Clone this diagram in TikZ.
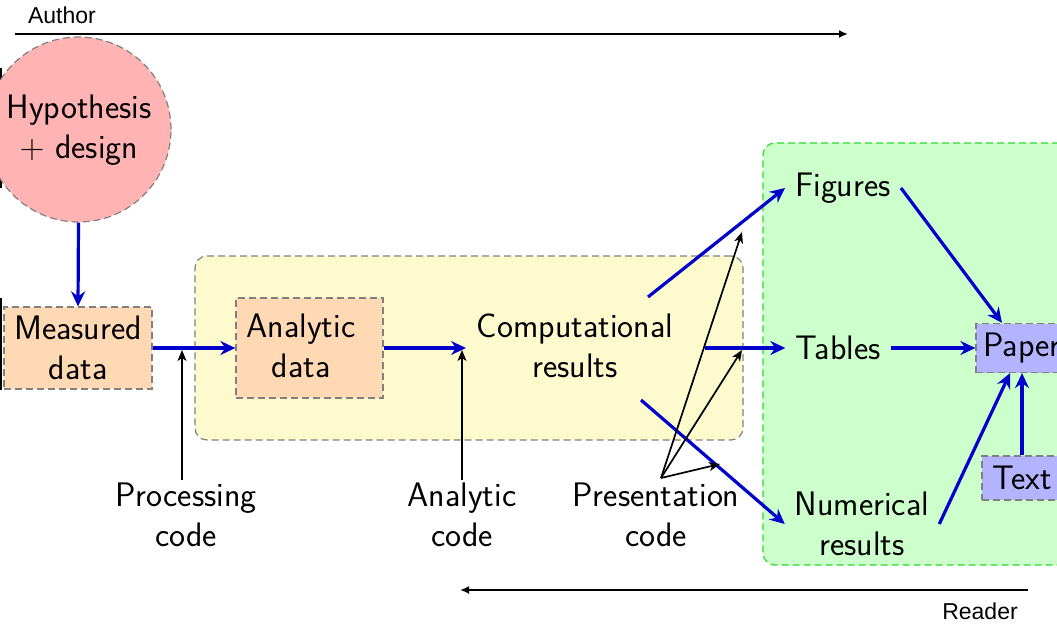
\documentclass[tikz,border=0pt]{standalone}
\usepackage{fontspec}
\newfontfamily\arialf{Liberation Sans}
\usetikzlibrary{arrows.meta}
\definecolor{flow}{RGB}{0,0,204}
\definecolor{dgray}{RGB}{128,128,128}
\definecolor{redfill}{RGB}{255,179,179}
\definecolor{orangefill}{RGB}{255,217,179}
\definecolor{yellowfill}{RGB}{253,251,206}
\definecolor{greenfill}{RGB}{204,255,204}
\definecolor{greenline}{RGB}{40,220,40}
\definecolor{bluefill}{RGB}{179,179,255}
\begin{document}
\begin{tikzpicture}[x=1pt,y=-1pt,
  txt/.style={font=\sffamily\fontsize{34}{39.5}\selectfont, align=center, inner sep=10pt},
  box/.style={draw=dgray, dash pattern=on 7pt off 4pt, line width=1.2pt, inner sep=0pt,
              font=\sffamily\fontsize{34}{39.5}\selectfont, align=center},
  flowarrow/.style={draw=flow, line width=3.2pt, -{Stealth[length=15pt,width=14pt,inset=5pt]}},
  codearrow/.style={draw=black, line width=1.7pt, -{Stealth[length=11pt,width=9pt,inset=3pt]}},
  timeline/.style={draw=black, line width=2pt, -{Latex[length=9pt,width=8pt]}},
  sidelabel/.style={font=\arialf\fontsize{23}{27}\selectfont, inner sep=0pt}
]
\useasboundingbox (0,0) rectangle (1057,634);

% background containers
\node[draw=dgray, dash pattern=on 7pt off 4pt, line width=1.2pt, fill=yellowfill,
      rounded corners=12pt, minimum width=548pt, minimum height=184pt, inner sep=0pt]
      (yel) at (469,348) {};
\node[draw=greenline, dash pattern=on 7pt off 4pt, line width=1.2pt, fill=greenfill,
      rounded corners=12pt, minimum width=330pt, minimum height=422pt, inner sep=0pt]
      (grn) at (928,354) {};

% edge bars
\draw[line width=1.6pt] (0.8,68) -- (0.8,188);
\draw[line width=1.6pt] (0.8,298) -- (0.8,390);

% timelines
\coordinate (a0) at (15,34);
\coordinate (a1) at (848,34);
\draw[timeline] (a0) -- (a1);
\node[sidelabel] (author) at (62,15) {Author};
\coordinate (r0) at (1028,590);
\coordinate (r1) at (460,590);
\draw[timeline] (r0) -- (r1);
\node[sidelabel] (reader) at (980,611) {Reader};

% nodes
\node[box, circle, fill=redfill, minimum size=185pt] (hyp) at (78.5,129.5) {};
\node[txt] (hyptext) at (79,130) {Hypothesis\\{\rmfamily +} design};
\node[box, fill=orangefill, minimum width=148pt, minimum height=82pt] (meas) at (78,348) {Measured\\data};
\node[box, fill=orangefill, minimum width=147pt, minimum height=100pt] (ana) at (309.5,348) {};
\node[txt] (anatext) at (301,346) {Analytic\\data};
\node[txt] (comp) at (575,346) {Computational\\results};
\node[txt] (fig) at (843,188) {Figures};
\node[txt] (tab) at (838,348) {Tables};
\node[txt] (num) at (862,524) {Numerical\\results};
\node[box, fill=bluefill, minimum width=92pt, minimum height=49pt] (paper) at (1022,348) {Paper};
\node[box, fill=bluefill, minimum width=80pt, minimum height=44pt] (textn) at (1022,478) {Text};

\node[txt] (proc) at (186,515) {Processing\\code};
\node[txt] (anc) at (462,515) {Analytic\\code};
\node[txt] (pres) at (656,515) {Presentation\\code};

% flow arrows
\draw[flowarrow] (hyp.south) -- (meas.north);
\draw[flowarrow] (meas.east) -- (ana.west);
\coordinate (compin) at (466,348);
\draw[flowarrow] (ana.east) -- (compin);
\coordinate (c1) at (648,297);
\coordinate (c2) at (705,348);
\coordinate (c3) at (641,400);
\draw[flowarrow] (c1) -- (fig.west);
\draw[flowarrow] (c2) -- (tab.west);
\draw[flowarrow] (c3) -- (num.west);
\draw[flowarrow] (fig.east) -- ([xshift=-20pt]paper.north);
\draw[flowarrow] (tab.east) -- (paper.west);
\draw[flowarrow] (num.east) -- ([xshift=-12pt]paper.south);
\draw[flowarrow] (textn.north) -- (paper.south);

% code arrows
\coordinate (pr0) at (182,480);
\coordinate (pr1) at (182,350);
\draw[codearrow] (pr0) -- (pr1);
\coordinate (an0) at (462,480);
\coordinate (an1) at (462,350);
\draw[codearrow] (an0) -- (an1);
\coordinate (p0) at (661,478);
\coordinate (pa) at (742,232);
\coordinate (pb) at (742,350);
\coordinate (pc) at (720,464);
\draw[codearrow] (p0) -- (pa);
\draw[codearrow] (p0) -- (pb);
\draw[codearrow] (p0) -- (pc);
\end{tikzpicture}
\end{document}
